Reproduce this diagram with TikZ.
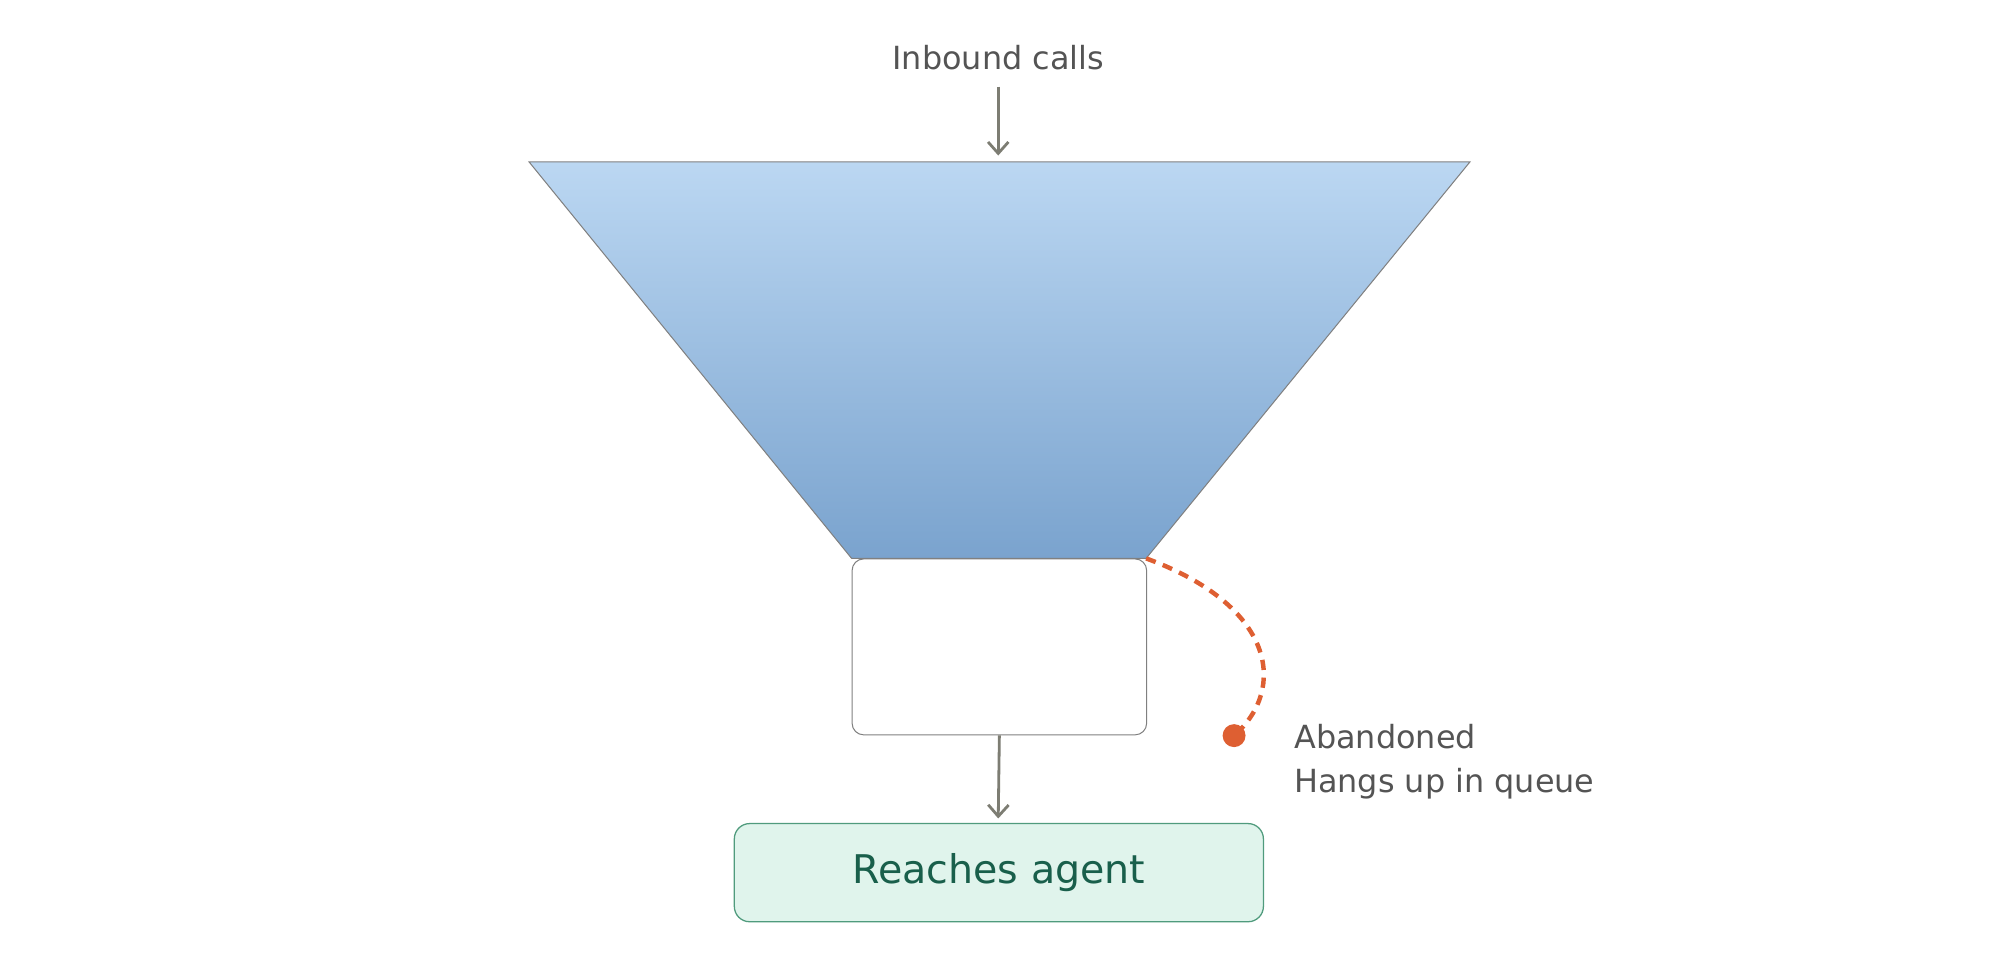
\documentclass[tikz,border=0pt]{standalone}
\usepackage{fontspec}
\setmainfont{DejaVu Sans}
\usetikzlibrary{arrows.meta}
\definecolor{ftop}{RGB}{187,215,242}
\definecolor{fbot}{RGB}{122,163,206}
\definecolor{agdraw}{RGB}{80,155,125}
\definecolor{agfill}{RGB}{224,244,236}
\definecolor{agtext}{RGB}{25,95,75}
\definecolor{orng}{RGB}{222,95,50}
\definecolor{arrc}{RGB}{125,125,115}
\begin{document}
\begin{tikzpicture}[x=1pt,y=-1pt,
  txt/.style={text=black!67,font=\fontsize{25}{30}\selectfont,inner sep=0},
  arr/.style={draw=arrc,line width=2.2pt,->,>={Straight Barb[length=9pt,width=16pt]}}]
\useasboundingbox (0,0) rectangle (1568,747);
\shade[top color=ftop,bottom color=fbot,draw=gray,line width=0.8pt]
  (415,127) -- (1153,127) -- (899,438) -- (668,438) -- cycle;
\node[txt] (in) at (783,45) {Inbound calls};
\coordinate (top) at (783,122);
\coordinate (ins) at (783,68);
\draw[arr] (ins) -- (top);
\node[draw=gray,line width=0.8pt,rounded corners=9pt,minimum width=231pt,minimum height=138pt,anchor=north west,inner sep=0] (q) at (668,438) {};
\node[draw=agdraw,fill=agfill,line width=1pt,rounded corners=12pt,minimum width=415pt,minimum height=77pt,text=agtext,font=\fontsize{31}{36}\selectfont,inner sep=0] (ag) at (783.5,684.5) {Reaches agent};
\coordinate (agn) at (783,642);
\draw[arr] (q.south) -- (agn);
\coordinate (d0) at (899,438);
\node[circle,fill=orng,minimum size=18pt,inner sep=0] (dot) at (968,577) {};
\draw[orng,line width=3.5pt,dash pattern=on 8pt off 6pt] (d0) .. controls (1000,475) and (1010,540) .. (dot.center);
\node[txt,anchor=west] (ab) at (1015,578) {Abandoned};
\node[txt,anchor=west] (hu) at (1015,615) {Hangs up in queue};
\end{tikzpicture}
\end{document}
